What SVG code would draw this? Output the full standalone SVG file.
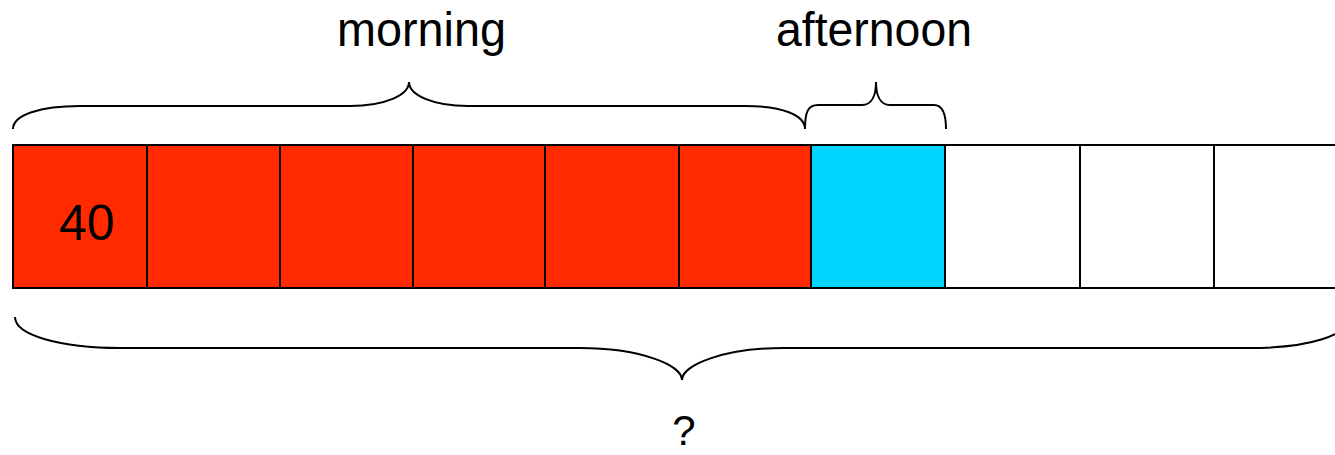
<svg xmlns="http://www.w3.org/2000/svg" width="1335" height="455" viewBox="0 0 1335 455">
<style>
.cell{stroke:#000;stroke-width:2}
.red{fill:#ff2a00}
.cyan{fill:#00d5ff}
.white{fill:#fff}
.brace{fill:none;stroke:#000;stroke-width:2}
.lbl{font-family:"Liberation Sans",Arial,sans-serif;fill:#000}
</style>
<rect width="1335" height="455" fill="#fff"/>
<g id="bar">
<g id="cell1"><rect class="cell red" x="13" y="145" width="134" height="143"/><text class="lbl" x="87" y="240" font-size="50" text-anchor="middle">40</text></g>
<g id="cell2"><rect class="cell red" x="147" y="145" width="133" height="143"/></g>
<g id="cell3"><rect class="cell red" x="280" y="145" width="133" height="143"/></g>
<g id="cell4"><rect class="cell red" x="413" y="145" width="132" height="143"/></g>
<g id="cell5"><rect class="cell red" x="545" y="145" width="134" height="143"/></g>
<g id="cell6"><rect class="cell red" x="679" y="145" width="132" height="143"/></g>
<g id="cell7"><rect class="cell cyan" x="811" y="145" width="134" height="143"/></g>
<g id="cell8"><rect class="cell white" x="945" y="145" width="135" height="143"/></g>
<g id="cell9"><rect class="cell white" x="1080" y="145" width="134" height="143"/></g>
<g id="cell10"><rect class="cell white" x="1214" y="145" width="134" height="143"/></g>
</g>
<g id="connectors">
<path id="morning-brace" class="brace" d="M13,129 C13,115 40,106 80,106 L350,106 C385,106 409,95 409,82 C409,95 433,106 468,106 L745,106 C782,106 805,115 805,129"/>
<path id="afternoon-brace" class="brace" d="M805,129 C805,112 808,105 818,105 L862,105 C872,105 876,95 876,82 C876,95 880,105 890,105 L934,105 C942,105 946,112 946,129"/>
<path id="total-brace" class="brace" d="M15,317 C15,335 60,348 120,348 L580,348 C640,348 682,365 682,380 C682,365 724,348 784,348 L1250,348 C1310,348 1349,335 1349,317"/>
</g>
<g id="label-morning"><text class="lbl" x="337" y="46" font-size="49" textLength="169" lengthAdjust="spacingAndGlyphs">morning</text></g>
<g id="label-afternoon"><text class="lbl" x="776" y="46" font-size="49" textLength="196" lengthAdjust="spacingAndGlyphs">afternoon</text></g>
<g id="label-total"><text class="lbl" x="684" y="445" font-size="42" text-anchor="middle">?</text></g>
</svg>
